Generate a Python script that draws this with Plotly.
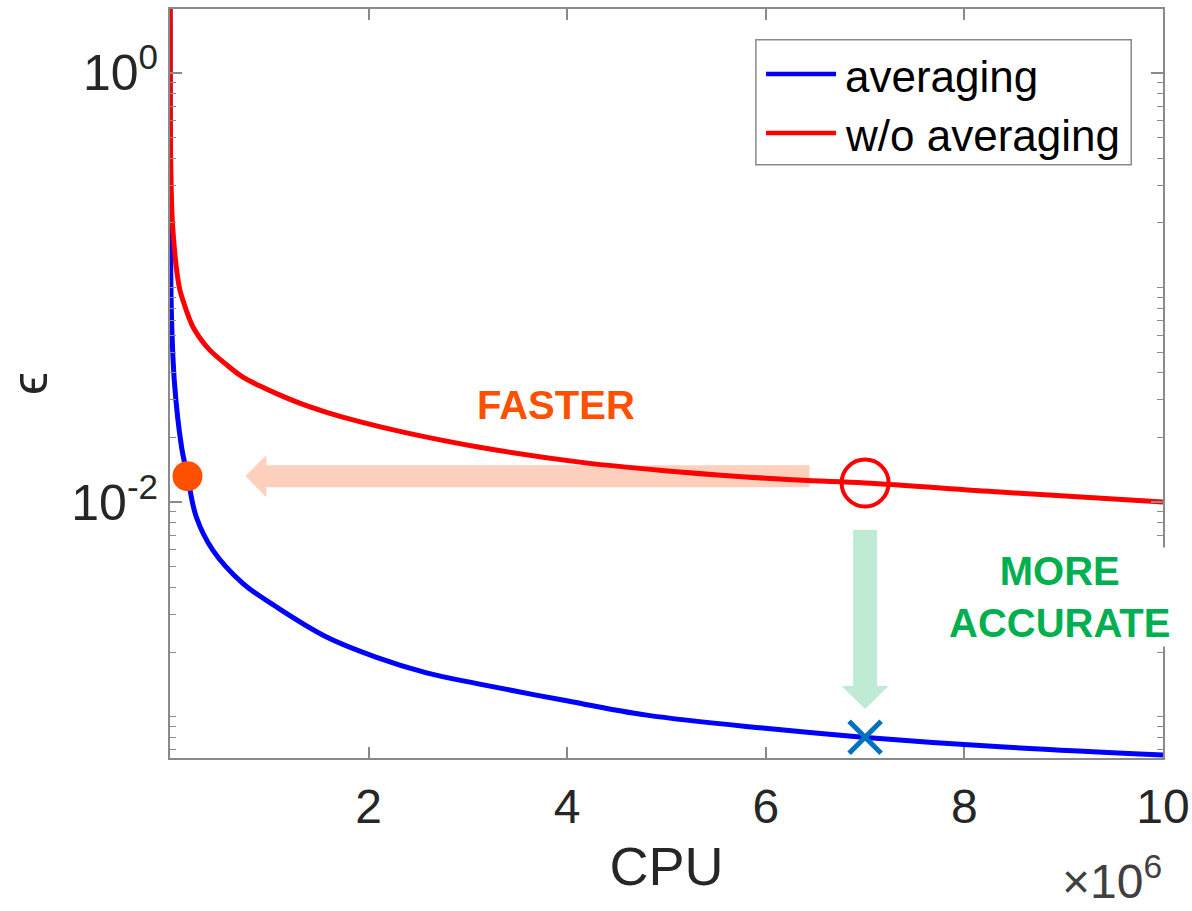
import plotly.graph_objects as go

FONT = "Liberation Sans, Arial, Helvetica, sans-serif"

# ---- data (CPU in absolute units) ----
avg_cpu = [0.0006e6, 0.002e6, 0.006e6, 0.015e6, 0.045e6, 0.116e6, 0.176e6, 0.264e6, 0.431e6,
           0.733e6, 1.070e6, 1.577e6, 2.080e6, 2.584e6, 3.118e6, 3.955e6, 4.801e6,
           5.970e6, 6.977e6, 8.36e6, 10.0e6]
avg_eps = [2.2, 0.45, 0.15, 0.0729, 0.0359, 0.0181, 0.01322, 0.00854, 0.00597,
           0.00418, 0.00325, 0.00235, 0.00189, 0.00160, 0.001417, 0.001194, 0.001016,
           0.000884, 0.000802, 0.000723, 0.000662]

noavg_cpu = [0.001e6, 0.0015e6, 0.004e6, 0.02e6, 0.045e6, 0.0625e6, 0.096e6, 0.129e6, 0.227e6,
             0.297e6, 0.398e6, 0.566e6, 0.730e6, 0.902e6, 1.073e6, 1.305e6, 1.577e6, 1.909e6,
             2.383e6, 3.118e6, 4.126e6, 5.134e6, 6.312e6, 7.0e6, 8.36e6, 10.0e6]
noavg_eps = [2.2, 1.5, 0.5, 0.22, 0.150, 0.125, 0.0990, 0.0874, 0.0660,
             0.0585, 0.0512, 0.0438, 0.0383, 0.0348, 0.0320, 0.0289, 0.0262, 0.0237,
             0.0210, 0.0180, 0.01535, 0.0138, 0.01266, 0.01227, 0.01113, 0.0100]

# highlighted points
fast_cpu, fast_eps = [0.176e6], [0.0132]      # averaging reaching same accuracy
ref_cpu, ref_eps = [7.0e6], [0.01227]         # w/o averaging reference
acc_cpu, acc_eps = [7.0e6], [0.000802]        # averaging at same CPU

x_tickvals = [2e6, 4e6, 6e6, 8e6, 10e6]
x_ticktext = ["2", "4", "6", "8", "10"]
y_tickvals = [1, 0.01]
y_ticktext = ["10<sup>0</sup>", "10<sup>-2</sup>"]
y_minor = [m * 10.0 ** k for k in range(-4, 1) for m in range(1, 10)
           if not (m == 1 and k in (0, -2))] + [2.0]

series_names = ["averaging", "w/o averaging"]
series_colors = ["#0000FF", "#FF0000"]

AX = "#8a8a8a"
TXT = "#262626"

fig = go.Figure()
fig.add_trace(go.Scatter(x=avg_cpu, y=avg_eps, mode="lines", name=series_names[0],
                         line=dict(color=series_colors[0], width=5, shape="spline", smoothing=1.0)))
fig.add_trace(go.Scatter(x=noavg_cpu, y=noavg_eps, mode="lines", name=series_names[1],
                         line=dict(color=series_colors[1], width=5, shape="spline", smoothing=1.0)))
fig.add_trace(go.Scatter(x=fast_cpu, y=fast_eps, mode="markers", showlegend=False,
                         marker=dict(symbol="circle", size=30, color="#FF5000")))
fig.add_trace(go.Scatter(x=ref_cpu, y=ref_eps, mode="markers", showlegend=False,
                         marker=dict(symbol="circle-open", size=47, color="#FF0000",
                                     line=dict(width=4, color="#FF0000"))))
fig.add_trace(go.Scatter(x=acc_cpu, y=acc_eps, mode="markers", showlegend=False,
                         marker=dict(symbol="x-thin", size=32, color="#0072BD",
                                     line=dict(width=5, color="#0072BD"))))

shapes = []
# "FASTER" arrow: horizontal, at the accuracy level of the fast point
shapes.append(dict(type="path", xref="x", yref="y", ysizemode="pixel", yanchor=fast_eps[0],
                   path="M6.44e6,-11 L0.97e6,-11 L0.97e6,-21 L0.76e6,0 L0.97e6,21 L0.97e6,11 L6.44e6,11 Z",
                   fillcolor="#FDD0BD", line=dict(width=0), layer="below"))
# "MORE ACCURATE" arrow: vertical, at the CPU of the reference point
shapes.append(dict(type="path", xref="x", yref="y", xsizemode="pixel", xanchor=ref_cpu[0],
                   path="M-12,0.0074 L12,0.0074 L12,0.001387 L23.5,0.001387 L0,0.001084 L-23.5,0.001387 L-12,0.001387 Z",
                   fillcolor="#BFEAD3", line=dict(width=0), layer="below"))

# manual legend (MATLAB style, long line samples)
shapes.append(dict(type="rect", xref="paper", yref="paper", x0=0.590, x1=0.968, y0=0.792, y1=0.959,
                   line=dict(color=AX, width=1.5), fillcolor="white", layer="above"))
leg_y = [0.9132, 0.8345]
for c, yy in zip(series_colors, leg_y):
    shapes.append(dict(type="line", xref="paper", yref="paper", x0=0.6002, x1=0.6707, y0=yy, y1=yy,
                       line=dict(color=c, width=4.5), layer="above"))

annotations = []
for nm, yy in zip(series_names, leg_y):
    annotations.append(dict(xref="paper", yref="paper", x=0.6778, y=yy - 0.003, text=nm,
                            showarrow=False, xanchor="left", yanchor="middle",
                            font=dict(size=44, color="black", family=FONT)))
annotations.append(dict(xref="paper", yref="paper", x=0.389, y=0.471, text="<b>FASTER</b>",
                        showarrow=False, xanchor="center", yanchor="middle",
                        font=dict(size=40, color="#FF5000", family=FONT)))
annotations.append(dict(xref="paper", yref="paper", x=0.896, y=0.215, text="<b>MORE<br>ACCURATE</b>",
                        showarrow=False, xanchor="center", yanchor="middle", bgcolor="white",
                        font=dict(size=40, color="#00B050", family=FONT)))
annotations.append(dict(xref="paper", yref="paper", x=1.001, y=-0.160, text="\u00d710<sup>6</sup>",
                        showarrow=False, xanchor="right", yanchor="middle",
                        font=dict(size=48, color="#404040", family=FONT)))

fig.update_layout(
    width=1192, height=911,
    margin=dict(l=170, r=29, t=9, b=153, autoexpand=False),
    plot_bgcolor="white", paper_bgcolor="white",
    showlegend=False,
    font=dict(family=FONT, color=TXT),
    shapes=shapes, annotations=annotations,
)
fig.update_xaxes(
    range=[0, 1e7], tickvals=x_tickvals, ticktext=x_ticktext, automargin=False,
    ticks="inside", ticklen=11, tickwidth=1.5, tickcolor=AX,
    showline=True, linecolor=AX, linewidth=2, mirror="ticks",
    showgrid=False, zeroline=False,
    tickfont=dict(size=48, color=TXT, family=FONT), ticklabelstandoff=5,
    title=dict(text="CPU", font=dict(size=54, color=TXT, family=FONT), standoff=16),
)
fig.update_yaxes(
    type="log", range=[-3.193, 0.298], tickvals=y_tickvals, ticktext=y_ticktext, automargin=False,
    ticks="inside", ticklen=12, tickwidth=1.5, tickcolor=AX,
    minor=dict(tickvals=y_minor, ticks="inside", ticklen=6, tickwidth=1.2, tickcolor=AX),
    showline=True, linecolor=AX, linewidth=2, mirror="ticks",
    showgrid=False, zeroline=False,
    tickfont=dict(size=50, color=TXT, family=FONT),
    title=dict(text="\u03f5", font=dict(size=52, color=TXT, family=FONT), standoff=39),
)

fig.write_html("out.html")
